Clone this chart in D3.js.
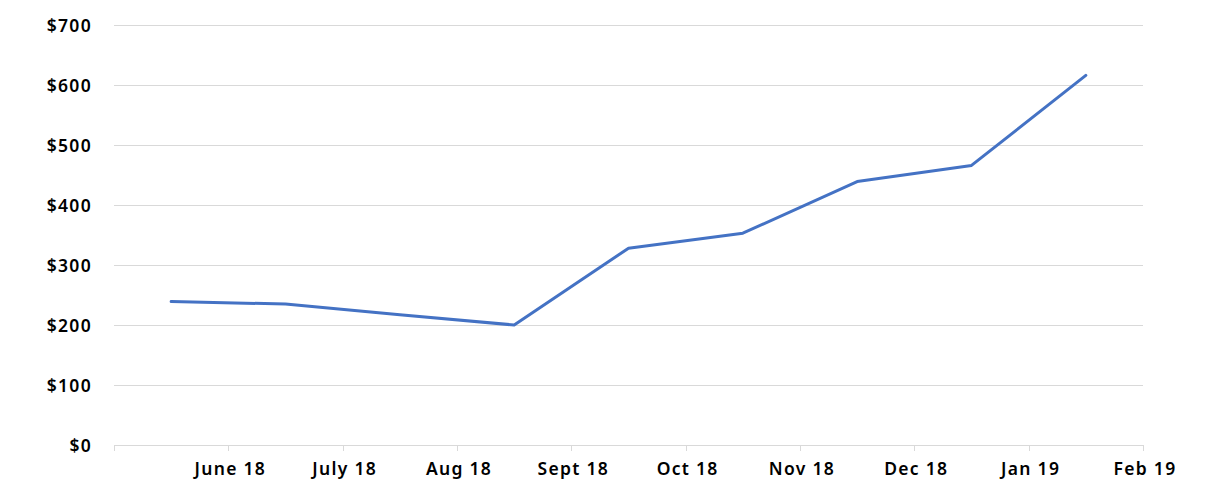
<!DOCTYPE html>
<html>
<head>
<meta charset="utf-8">
<script src="https://cdn.jsdelivr.net/npm/d3@7"></script>
<style>
  body { margin: 0; background: #fff; }
  text { font-family: "Noto Sans", "Open Sans", sans-serif; font-weight: 600; fill: #000; letter-spacing: 1.3px; }
</style>
</head>
<body>
<div id="chart"></div>
<script>
// months the values belong to (points sit mid-month)
const months = ['May 18', 'June 18', 'July 18', 'Aug 18', 'Sept 18', 'Oct 18', 'Nov 18', 'Dec 18', 'Jan 19'];
const values = [239, 235, 217, 200, 328, 353, 439, 466, 616];
// labels drawn at the start of each following month
const tickLabels = ['', 'June 18', 'July 18', 'Aug 18', 'Sept 18', 'Oct 18', 'Nov 18', 'Dec 18', 'Jan 19', 'Feb 19'];
const yTicks = [0, 100, 200, 300, 400, 500, 600, 700];

const width = 1208, height = 489;
const margin = { top: 25, right: 65, bottom: 44, left: 114 };

const svg = d3.select('#chart')
  .append('svg')
  .attr('width', width)
  .attr('height', height);

const x = d3.scaleBand()
  .domain(months)
  .range([margin.left, width - margin.right])
  .paddingInner(0)
  .paddingOuter(0);

const y = d3.scaleLinear()
  .domain([0, 700])
  .range([height - margin.bottom, margin.top]);

// month boundaries for the ticks
const bound = i => margin.left + i * x.step();

// gridlines
svg.append('g')
  .selectAll('line')
  .data(yTicks.slice(1))
  .enter()
  .append('line')
  .attr('x1', margin.left)
  .attr('x2', width - margin.right)
  .attr('y1', d => Math.round(y(d)) + 0.5)
  .attr('y2', d => Math.round(y(d)) + 0.5)
  .attr('stroke', '#d9d9d9')
  .attr('stroke-width', 1);

// y labels
svg.append('g')
  .selectAll('text')
  .data(yTicks)
  .enter()
  .append('text')
  .attr('x', 92)
  .attr('y', d => y(d) + 1)
  .attr('dy', '0.35em')
  .attr('text-anchor', 'end')
  .attr('font-size', 17.5)
  .text(d => '$' + d);

// x axis line + ticks
const xAxis = svg.append('g');
xAxis.append('line')
  .attr('x1', margin.left)
  .attr('x2', width - margin.right)
  .attr('y1', Math.round(y(0)) + 0.5)
  .attr('y2', Math.round(y(0)) + 0.5)
  .attr('stroke', '#d9d9d9');

xAxis.selectAll('.tick')
  .data(tickLabels)
  .enter()
  .append('line')
  .attr('class', 'tick')
  .attr('x1', (d, i) => Math.round(bound(i)) + 0.5)
  .attr('x2', (d, i) => Math.round(bound(i)) + 0.5)
  .attr('y1', Math.round(y(0)))
  .attr('y2', Math.round(y(0)) + 6)
  .attr('stroke', '#d9d9d9');

xAxis.selectAll('.lbl')
  .data(tickLabels)
  .enter()
  .append('text')
  .attr('class', 'lbl')
  .attr('x', (d, i) => bound(i) + 2)
  .attr('y', 475)
  .attr('text-anchor', 'middle')
  .attr('font-size', 17.5)
  .text(d => d);

// the line
const line = d3.line()
  .x((d, i) => x(months[i]) + x.bandwidth() / 2)
  .y(d => y(d));

svg.append('path')
  .datum(values)
  .attr('d', line)
  .attr('fill', 'none')
  .attr('stroke', '#4472c4')
  .attr('stroke-width', 3)
  .attr('stroke-linejoin', 'round')
  .attr('stroke-linecap', 'round');
</script>
</body>
</html>
